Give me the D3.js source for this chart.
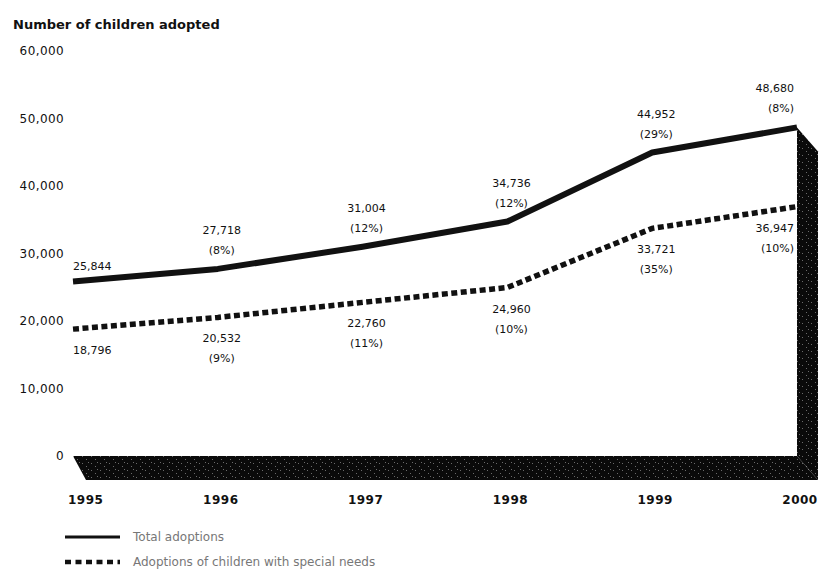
<!DOCTYPE html>
<html>
<head>
<meta charset="utf-8">
<script src="https://cdn.jsdelivr.net/npm/d3@7"></script>
<style>
  body { margin: 0; background: #fff; }
  svg { display: block; font-family: "DejaVu Sans", Verdana, sans-serif; }
  .tick-label { font-size: 12px; letter-spacing: 0.4px; fill: #111; }
  .year-label { font-size: 12px; font-weight: bold; letter-spacing: 0.5px; fill: #111; }
  .data-label { font-size: 11px; fill: #111; }
  .legend-label { font-size: 12px; fill: #777; }
</style>
</head>
<body>
<svg id="chart" width="819" height="570"></svg>
<script>
// values
const years = [1995, 1996, 1997, 1998, 1999, 2000];
const totalAdoptions = [25844, 27718, 31004, 34736, 44952, 48680];
const totalChange = [null, "8%", "12%", "12%", "29%", "8%"];
const specialNeeds = [18796, 20532, 22760, 24960, 33721, 36947];
const specialChange = [null, "9%", "11%", "10%", "35%", "10%"];
const yTicks = [0, 10000, 20000, 30000, 40000, 50000, 60000];
const seriesNames = ["Total adoptions", "Adoptions of children with special needs"];

const svg = d3.select("#chart");

let x = d3.scaleLinear().domain([1995, 2000]).range([73, 797]);
let y = d3.scaleLinear().domain([0, 60000]).range([456, 51]);

// depth of the fake 3d slab
let depthX = 21, depthY = 24, leftDepthX = 13;

// dithered dark fill
let defs = svg.append("defs");
let pat = defs.append("pattern")
  .attr("id", "dither")
  .attr("patternUnits", "userSpaceOnUse")
  .attr("width", 9).attr("height", 7);
pat.append("rect").attr("width", 9).attr("height", 7).attr("fill", "#0a0a0a");
[[1, 1], [5, 4], [7, 0]].forEach(function(p){
  pat.append("rect").attr("x", p[0]).attr("y", p[1])
    .attr("width", 1).attr("height", 1).attr("fill", "#6a6a6a");
});

// title
svg.append("text")
  .attr("x", 13).attr("y", 29)
  .style("font-size", "13px").style("font-weight", "bold")
  .attr("fill", "#111")
  .text("Number of children adopted");

// y tick labels
svg.selectAll(".tick-label")
  .data(yTicks)
  .enter().append("text")
  .attr("class", "tick-label")
  .attr("x", 64)
  .attr("y", function(d){ return y(d); })
  .attr("dy", "0.35em")
  .attr("text-anchor", "end")
  .text(function(d){ return d3.format(",")(d); });

// floor and right wall
let x0 = x(years[0]), x1 = x(years[years.length - 1]), yZero = y(0);
let yEnd = y(totalAdoptions[totalAdoptions.length - 1]);
svg.append("path")
  .attr("d", d3.line()([[x0, yZero], [x1, yZero], [x1 + depthX, yZero + depthY], [x0 + leftDepthX, yZero + depthY]]) + "Z")
  .attr("fill", "url(#dither)");
svg.append("path")
  .attr("d", d3.line()([[x1, yEnd], [x1 + depthX, yEnd + depthY], [x1 + depthX, yZero + depthY], [x1, yZero]]) + "Z")
  .attr("fill", "url(#dither)");

// year labels
svg.selectAll(".year-label")
  .data(years)
  .enter().append("text")
  .attr("class", "year-label")
  .attr("x", function(d, i){ return i == 0 ? x(d) - 5 : x(d) + 3; })
  .attr("y", 504)
  .attr("text-anchor", function(d, i){ return i == 0 ? "start" : "middle"; })
  .text(function(d){ return d; });

// lines
let line = d3.line()
  .x(function(d, i){ return x(years[i]); })
  .y(function(d){ return y(d); });

svg.append("path")
  .datum(specialNeeds)
  .attr("d", line)
  .attr("fill", "none")
  .attr("stroke", "#111")
  .attr("stroke-width", 5.5)
  .attr("stroke-dasharray", "6,3.5");

svg.append("path")
  .datum(totalAdoptions)
  .attr("d", line)
  .attr("fill", "none")
  .attr("stroke", "#111")
  .attr("stroke-width", 6)
  .attr("stroke-linejoin", "round");

// data labels
function anchorFor(i){
  if (i == 0) return "start";
  if (i == years.length - 1) return "end";
  return "middle";
}
function labelX(i){
  if (i == 0) return x(years[i]);
  if (i == years.length - 1) return x(years[i]) - 3;
  return x(years[i]) + 4;
}

function drawLabels(values, changes, above){
  let g = svg.append("g");
  values.forEach(function(v, i){
    let ly = y(v);
    let t = g.append("text")
      .attr("class", "data-label")
      .attr("text-anchor", anchorFor(i))
      .attr("x", labelX(i));
    if (above){
      if (changes[i] == null){
        t.attr("y", ly - 16 + 4).text(d3.format(",")(v));
      } else {
        t.attr("y", ly - 39 + 4).text(d3.format(",")(v));
        g.append("text").attr("class", "data-label")
          .attr("text-anchor", anchorFor(i))
          .attr("x", labelX(i))
          .attr("y", ly - 19 + 4)
          .text("(" + changes[i] + ")");
      }
    } else {
      t.attr("y", ly + 21 + 4).text(d3.format(",")(v));
      if (changes[i] != null){
        g.append("text").attr("class", "data-label")
          .attr("text-anchor", anchorFor(i))
          .attr("x", labelX(i))
          .attr("y", ly + 41 + 4)
          .text("(" + changes[i] + ")");
      }
    }
  });
}
drawLabels(totalAdoptions, totalChange, true);
drawLabels(specialNeeds, specialChange, false);

// legend
let legend = svg.append("g");
seriesNames.forEach(function(name, i){
  let ly = 537 + i * 25;
  legend.append("line")
    .attr("x1", 65).attr("x2", 120)
    .attr("y1", ly).attr("y2", ly)
    .attr("stroke", "#111")
    .attr("stroke-width", i == 0 ? 3 : 4.5)
    .attr("stroke-dasharray", i == 0 ? null : "6,4.5");
  legend.append("text")
    .attr("class", "legend-label")
    .attr("x", 133).attr("y", ly)
    .attr("dy", "0.35em")
    .text(name);
});
</script>
</body>
</html>
